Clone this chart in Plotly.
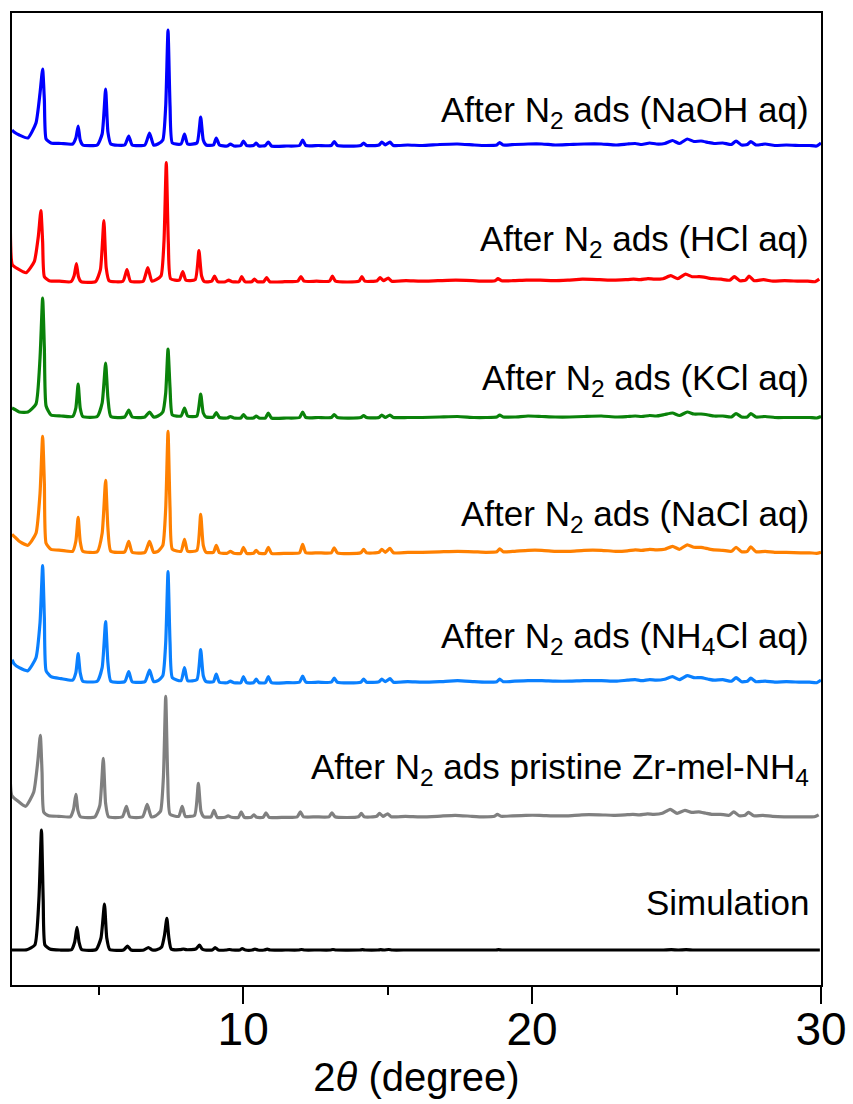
import plotly.graph_objects as go

# 2-theta grid (degree) shared by every pattern
two_theta = [
    2.00, 2.07, 2.25, 2.55, 2.83, 2.97, 3.06, 3.12, 3.18, 3.35, 3.70,
    4.10, 4.21, 4.29, 4.36, 4.45, 4.95, 5.12, 5.24, 5.32, 5.42,
    5.90, 6.04, 6.16, 6.60, 6.76, 6.90, 7.05, 7.22, 7.32, 7.40, 7.47, 7.55,
    7.85, 7.97, 8.08, 8.40, 8.53, 8.62, 8.72, 8.97, 9.07, 9.18,
    9.45, 9.56, 9.68, 9.92, 10.01, 10.12, 10.36, 10.45, 10.55, 10.77, 10.87, 10.98,
    11.50, 11.95, 12.06, 12.17, 12.60, 13.05, 13.15, 13.26,
    14.07, 14.17, 14.27, 14.70, 14.80, 14.92, 15.08, 15.20,
    15.70, 16.20, 16.80, 17.42, 18.00, 18.40, 18.78, 18.88, 19.00, 19.40, 19.86, 20.34, 20.80,
    21.30, 21.80, 22.40, 22.90, 23.30, 23.57, 23.80, 24.07, 24.30, 24.59, 24.86, 25.10, 25.37,
    25.60, 25.85, 26.10, 26.30, 26.60, 26.90, 27.06, 27.25, 27.45, 27.57, 27.75, 28.07, 28.40,
    28.80, 29.30, 29.60, 29.85, 30.00,
]

# Intensities (a.u., above each pattern's own baseline)
naoh_int = [
    16, 14, 11, 8, 23, 53, 77, 46, 7, 3, 2.5,
    2, 8, 20, 6, 1, 1, 12, 57, 14, 2,
    1, 10, 1, 1, 13, 1, 2, 6, 40, 116, 40, 3,
    2, 12, 2, 3, 29, 6, 1, 1, 8, 1,
    0, 2, 0, 0.5, 5, 0.5, 0.5, 3, 0, 0.5, 4, 0,
    0, 0.5, 6, 0.5, 0.5, 0.5, 4.5, 0.5,
    0.5, 3, 0.5, 1, 4, 1, 4, 0.5,
    1, 0.5, 1.5, 2, 1, 0.5, 1, 3.5, 1, 1.5, 2, 2, 1,
    1.5, 2, 2, 1, 2, 2.5, 1.5, 3, 2, 2.5, 5.5, 2.5, 7,
    4.5, 5, 3.5, 2.5, 3, 1.5, 5, 1, 1.5, 4.5, 1, 2, 0.5,
    1, 0.5, 0.5, 0, 3,
]
hcl_int = [
    64, 17, 13, 9, 20, 45, 71, 40, 5, 1, 0.5,
    0, 6, 18, 5, 0, 0, 12, 61, 14, 1,
    0.5, 12, 0.5, 0.5, 14, 0.5, 2, 6, 40, 119, 40, 3,
    1.5, 10, 1.5, 2, 31, 6, 0, 0.5, 5.5, 0,
    0, 1.5, 0, 0, 5, 0, 0, 2.5, 0, 0, 4, 0,
    0, 0.5, 5, 0.5, 0.5, 0.5, 5.5, 0.5,
    0.5, 5, 0.5, 1, 4, 1, 3.5, 0.5,
    1, 0.5, 1, 1.5, 1, 0.5, 1, 3, 1, 1, 1.5, 1.5, 1,
    1.5, 2.5, 2, 1.5, 2, 2.5, 2, 3, 2.5, 3, 6, 3, 7.5,
    5, 5, 4, 3, 2.5, 1.5, 5, 1, 1.5, 5.5, 1, 2, 0.5,
    1, 0.5, 0.5, 0, 2.5,
]
kcl_int = [
    10, 9, 6, 6, 14, 60, 120, 70, 12, 3, 2,
    1.5, 10, 34, 10, 1.5, 1.5, 15, 55, 20, 1.5,
    1, 8, 1, 1, 6, 1, 2, 6, 25, 69, 30, 3,
    2, 10, 2, 2, 24, 5, 1, 1, 5.5, 0.5,
    0, 1.5, 0, 0, 3.5, 0, 0, 2, 0, 0, 5, 0,
    0, 0.5, 6, 0.5, 0.5, 0.5, 3.5, 0.5,
    0.5, 2.5, 0.5, 0.5, 3, 0.5, 3, 0.5,
    0.5, 0.5, 1, 1.5, 0.5, 0.5, 1, 3, 1, 1, 2, 1.5, 1,
    1, 1.5, 2, 1, 1.5, 2, 1.5, 2.5, 2, 3.5, 5, 2.5, 6,
    4, 4, 3, 2, 2, 1, 4.5, 1, 1, 4.5, 1, 1.5, 0.5,
    0.5, 0.5, 0.5, 0, 1.5,
]
nacl_int = [
    19, 17, 12, 8, 20, 60, 117, 70, 10, 4, 3,
    2, 12, 36, 12, 2, 1.5, 20, 73, 25, 2,
    1.5, 12, 1, 1, 12, 1, 2, 8, 45, 122, 45, 4,
    2, 14, 2, 3, 39, 8, 1, 1, 8, 0.5,
    0, 2, 0, 0, 6, 0, 0, 3, 0, 0, 6, 0,
    0, 0.5, 9, 0.5, 0.5, 0.5, 5.5, 0.5,
    0.5, 4, 0.5, 1, 4, 1, 5, 0.5,
    1, 1, 1.5, 2, 1.5, 1, 1.5, 4.5, 1.5, 2, 3, 3, 2,
    2, 3, 3, 2, 2.5, 3.5, 3, 4, 3.5, 4, 7, 4, 8.5,
    6, 6, 4.5, 3.5, 3, 2, 6, 1.5, 2, 6.5, 1.5, 2, 1,
    1, 0.5, 0.5, 0, 1,
]
nh4cl_int = [
    23, 19, 15, 12, 25, 60, 117, 65, 12, 6, 4,
    2.5, 10, 29, 10, 1.5, 1.5, 15, 61, 20, 1.5,
    1, 11, 1, 1, 12.5, 1, 2, 7, 40, 111, 40, 5,
    2, 15, 2, 3, 33, 7, 1, 1, 8.5, 0.5,
    0, 1.5, 0, 0, 6, 0, 0, 3.5, 0, 0, 6, 0,
    0, 0.5, 6.5, 0.5, 0.5, 0.5, 4.5, 0.5,
    0.5, 3.5, 0.5, 1, 3.5, 1, 4, 0.5,
    1, 0.5, 1, 2, 1, 0.5, 1, 3.5, 1, 1.5, 2, 2, 1.5,
    1.5, 2, 2, 1.5, 2.5, 3, 2, 3, 2.5, 3.5, 6, 3, 7,
    5, 5, 3.5, 2.5, 3, 1.5, 5, 1, 1.5, 4.5, 1, 1.5, 0.5,
    1, 0.5, 0.5, 0, 2.5,
]
pristine_int = [
    70, 22, 17, 11, 25, 55, 82, 45, 5, 1.5, 1,
    0.5, 8, 23, 7, 0.5, 0.5, 12, 59, 14, 0.5,
    0.5, 11, 0.5, 0.5, 13, 0.5, 1.5, 6, 40, 121, 40, 3,
    1, 11, 1, 2, 34, 6, 0.5, 0.5, 7, 0,
    0, 1.5, 0, 0, 5.5, 0, 0, 2.5, 0, 0, 4.5, 0,
    0, 0.5, 5.5, 0.5, 0.5, 0.5, 4.5, 0.5,
    0.5, 4, 0.5, 1, 4, 1, 3.5, 0.5,
    1, 0.5, 1, 2, 1, 0.5, 1, 3, 1, 1.5, 2, 2, 1.5,
    1.5, 2.5, 2.5, 2, 2.5, 3, 2.5, 3.5, 3, 4, 8, 4, 7,
    5, 5.5, 4, 3, 3, 2, 5.5, 1.5, 2, 5, 1.5, 2, 1,
    0.5, 0.5, 0.5, 0.5, 2.5,
]
simulation_int = [
    0, 0, 0, 0.3, 5, 50, 120, 50, 5, 1, 0,
    0.3, 8, 22.7, 8, 0.5, 0.3, 12, 46, 12, 0.5,
    0, 4, 0, 0, 2.5, 0, 0.3, 3, 15, 31.7, 12, 1,
    0.3, 1, 0.3, 1, 5, 1, 0, 0, 2.3, 0,
    0, 0.5, 0, 0, 1.5, 0, 0, 1, 0, 0, 0.8, 0,
    0, 0, 0.5, 0, 0, 0, 0.5, 0,
    0, 0.3, 0, 0, 0.3, 0, 0.5, 0,
    0, 0, 0, 0, 0, 0, 0, 0.3, 0, 0, 0, 0, 0,
    0, 0, 0, 0, 0, 0, 0, 0, 0, 0, 0.3, 0, 0.3,
    0, 0, 0, 0, 0, 0, 0, 0, 0, 0, 0, 0, 0,
    0, 0, 0, 0, 0,
]

# Sample names (top to bottom), stacking offsets and zero-point shifts (degree)
labels = [
    "After N<sub>2</sub> ads (NaOH aq)",
    "After N<sub>2</sub> ads (HCl aq)",
    "After N<sub>2</sub> ads (KCl aq)",
    "After N<sub>2</sub> ads (NaCl aq)",
    "After N<sub>2</sub> ads (NH<sub>4</sub>Cl aq)",
    "After N<sub>2</sub> ads pristine Zr-mel-NH<sub>4</sub>",
    "Simulation",
]
intensities = [naoh_int, hcl_int, kcl_int, nacl_int, nh4cl_int, pristine_int, simulation_int]
offsets = [839, 703.3, 567, 431.7, 302.3, 167.7, 35]
zero_shift = [0.0, -0.06, 0.0, 0.0, 0.0, -0.08, -0.04]
colors = ["#0000ff", "#ff0000", "#0a820a", "#ff8000", "#0a80ff", "#808080", "#000000"]
label_y = [873, 744, 605, 469, 347, 216, 83]

for arr in intensities:
    assert len(arr) == len(two_theta), len(arr)

fig = go.Figure()
for name, ints, off, sh, col in zip(labels, intensities, offsets, zero_shift, colors):
    fig.add_trace(go.Scatter(
        x=[t + sh for t in two_theta],
        y=[v + off for v in ints],
        mode="lines",
        line=dict(color=col, width=3.2, shape="spline", smoothing=0.5),
        name=name,
        showlegend=False,
    ))

font_family = "Arial, 'Liberation Sans', sans-serif"
for name, ly in zip(labels, label_y):
    fig.add_annotation(
        x=0.988, xref="paper", xanchor="right",
        y=ly, yref="y", yanchor="middle",
        text=name, showarrow=False,
        font=dict(family=font_family, size=35, color="#000000"),
    )

fig.update_layout(
    width=853, height=1104,
    margin=dict(l=12, r=32, t=13, b=119),
    paper_bgcolor="#ffffff", plot_bgcolor="#ffffff",
    font=dict(family=font_family, color="#000000"),
    xaxis=dict(
        range=[2, 30], tickvals=[10, 20, 30], automargin=False,
        ticks="outside", ticklen=17, tickwidth=1.5, tickcolor="#000000",
        ticklabelstandoff=-14,
        minor=dict(tickvals=[5, 15, 25], ticks="outside", ticklen=8, tickwidth=1.5, tickcolor="#000000"),
        showline=True, linewidth=1.6, linecolor="#000000", mirror=True,
        showgrid=False, zeroline=False,
        tickfont=dict(size=46, family=font_family),
        title=dict(text="2<i>θ</i> (degree)", font=dict(size=40, family=font_family), standoff=4),
    ),
    yaxis=dict(
        range=[0, 972], showticklabels=False, ticks="", automargin=False,
        showline=True, linewidth=1.6, linecolor="#000000", mirror=True,
        showgrid=False, zeroline=False,
    ),
)

fig.write_html("out.html")
